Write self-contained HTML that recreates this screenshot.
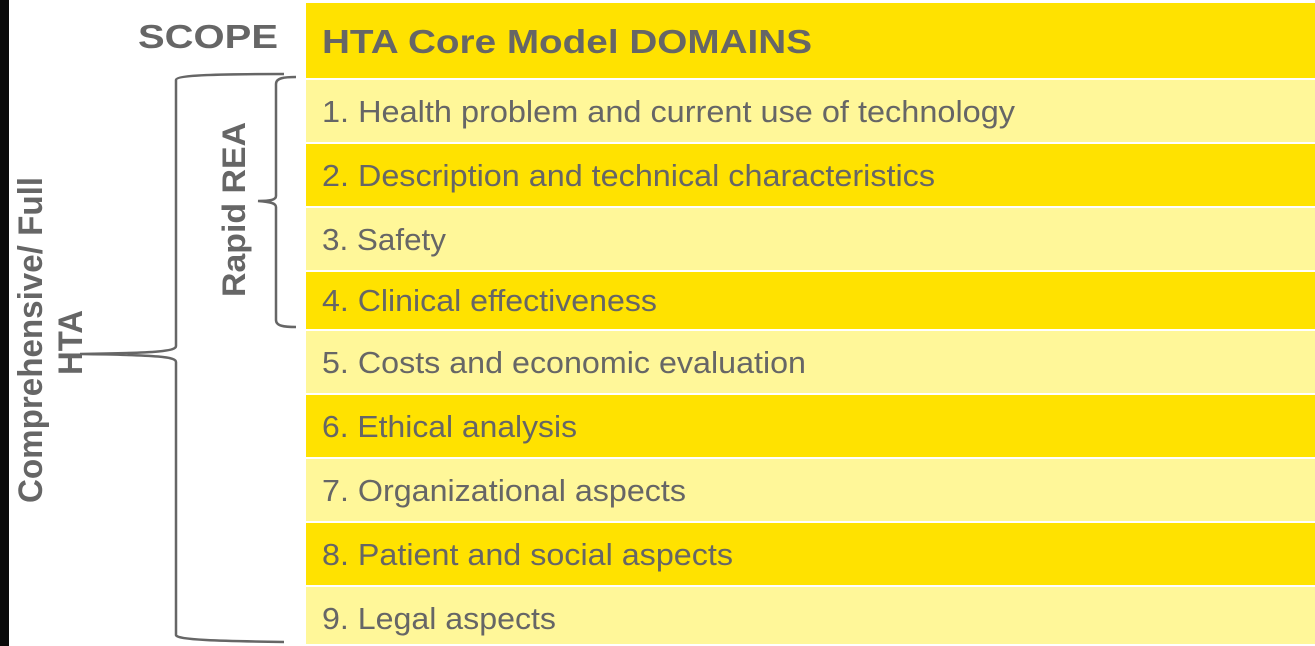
<!DOCTYPE html>
<html><head><meta charset="utf-8"><style>
html,body{margin:0;padding:0;background:#fff;width:1315px;height:646px;overflow:hidden}
svg{display:block}
text{font-family:"Liberation Sans",Arial,sans-serif;fill:#666}
</style></head><body>
<svg width="1315" height="646" viewBox="0 0 1315 646">
<rect x="0" y="0" width="9" height="646" fill="#0a0a0a"/>
<g>
<rect x="306" y="3" width="1009" height="75" fill="#FFE200"/>
<text x="322" y="53" font-size="33" font-weight="bold" textLength="490" lengthAdjust="spacingAndGlyphs">HTA Core Model DOMAINS</text>
<rect x="306" y="80" width="1009" height="62" fill="#FFF799"/>
<text x="322" y="122" font-size="31" textLength="693" lengthAdjust="spacingAndGlyphs">1. Health problem and current use of technology</text>
<rect x="306" y="144" width="1009" height="62" fill="#FFE200"/>
<text x="322" y="186" font-size="31" textLength="613" lengthAdjust="spacingAndGlyphs">2. Description and technical characteristics</text>
<rect x="306" y="208" width="1009" height="62" fill="#FFF799"/>
<text x="322" y="250" font-size="31" textLength="124" lengthAdjust="spacingAndGlyphs">3. Safety</text>
<rect x="306" y="272" width="1009" height="57" fill="#FFE200"/>
<text x="322" y="311" font-size="31" textLength="335" lengthAdjust="spacingAndGlyphs">4. Clinical effectiveness</text>
<rect x="306" y="331" width="1009" height="62" fill="#FFF799"/>
<text x="322" y="373" font-size="31" textLength="484" lengthAdjust="spacingAndGlyphs">5. Costs and economic evaluation</text>
<rect x="306" y="395" width="1009" height="62" fill="#FFE200"/>
<text x="322" y="437" font-size="31" textLength="255" lengthAdjust="spacingAndGlyphs">6. Ethical analysis</text>
<rect x="306" y="459" width="1009" height="62" fill="#FFF799"/>
<text x="322" y="501" font-size="31" textLength="364" lengthAdjust="spacingAndGlyphs">7. Organizational aspects</text>
<rect x="306" y="523" width="1009" height="62" fill="#FFE200"/>
<text x="322" y="565" font-size="31" textLength="411" lengthAdjust="spacingAndGlyphs">8. Patient and social aspects</text>
<rect x="306" y="587" width="1009" height="57" fill="#FFF799"/>
<text x="322" y="629" font-size="31" textLength="234" lengthAdjust="spacingAndGlyphs">9. Legal aspects</text>
</g>
<text x="278" y="48" font-size="33" font-weight="bold" text-anchor="end" textLength="140" lengthAdjust="spacingAndGlyphs">SCOPE</text>
<path d="M296,77 C284,77 276,78 276,84 L276,196 C276,200 270,201 258,201 C270,202 276,203 276,207 L276,320 C276,326 284,327 296,327" fill="none" stroke="#666" stroke-width="2.5"/>
<text transform="translate(245,297) rotate(-90)" font-size="32" font-weight="bold" textLength="175" lengthAdjust="spacingAndGlyphs">Rapid REA</text>
<path d="M284,74 C220,74 176,75 176,80 L176,346 C176,351 160,353 80,354 C160,355 176,357 176,362 L176,635 C176,640 220,641 284,642" fill="none" stroke="#666" stroke-width="2.5"/>
<text transform="translate(42,503) rotate(-90)" font-size="34" font-weight="bold" textLength="326" lengthAdjust="spacingAndGlyphs">Comprehensive/ Full</text>
<text transform="translate(82,375) rotate(-90)" font-size="34" font-weight="bold" textLength="65" lengthAdjust="spacingAndGlyphs">HTA</text>
</svg>
</body></html>
